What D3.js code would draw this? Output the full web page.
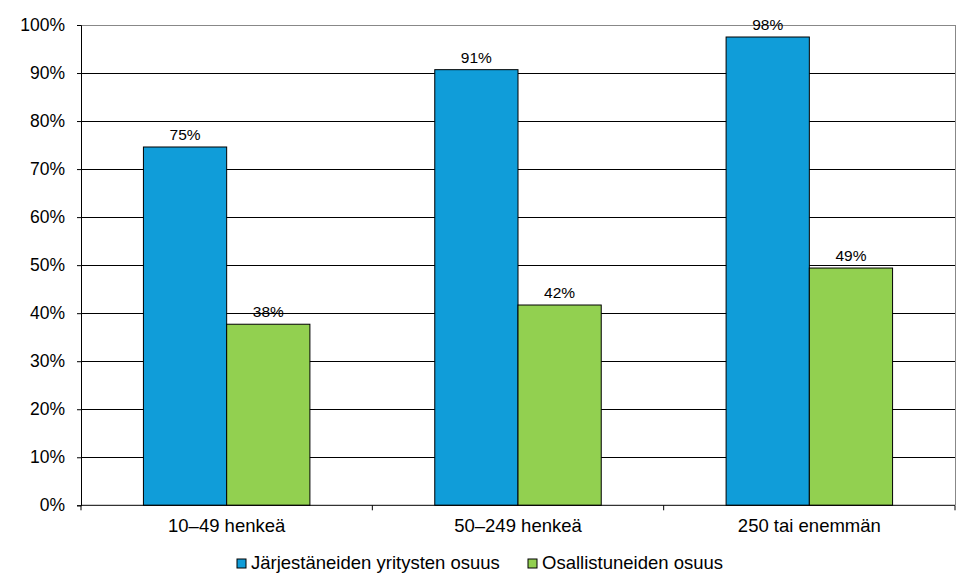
<!DOCTYPE html>
<html><head><meta charset="utf-8">
<script src="https://cdn.jsdelivr.net/npm/d3@7"></script>
<style>body{margin:0;background:#fff}svg{display:block;font-family:"Liberation Sans",Arial,sans-serif}</style>
</head><body><svg id="c" width="966" height="587"></svg>
<script>
const categories = ["10–49 henkeä", "50–249 henkeä", "250 tai enemmän"];
const seriesNames = ["Järjestäneiden yritysten osuus", "Osallistuneiden osuus"];
const series1 = [74.6, 90.7, 97.5];
const series2 = [37.7, 41.7, 49.4];
const labels1 = ["75%", "91%", "98%"];
const labels2 = ["38%", "42%", "49%"];
const yTicks = [0,10,20,30,40,50,60,70,80,90,100];
const colors = ["#109DD9", "#92D050"];

const svg = d3.select("#c");
const L = 81, R = 955, T = 25, B = 505.3;
const x = d3.scaleBand().domain(categories).range([L, R]).paddingInner(0).paddingOuter(0);
const y = d3.scaleLinear().domain([0, 100]).range([B, T]);
const bw = x.bandwidth() / (2 + 1.5);
const x1 = d3.scaleBand().domain([0,1]).range([0, bw*2]);

svg.append("g").selectAll("line").data(yTicks.filter(d=>d>0 && d<100)).join("line")
  .attr("x1", L).attr("x2", R).attr("y1", d=>y(d)).attr("y2", d=>y(d))
  .attr("stroke", "#000").attr("stroke-width", 1).attr("shape-rendering","crispEdges");
svg.append("path").attr("d", `M${L},${y(100)}H${R}V${B}`).attr("fill","none")
  .attr("stroke","#888").attr("stroke-width",1).attr("shape-rendering","crispEdges");

const data = categories.map((c,i)=>({c, v:[series1[i], series2[i]], l:[labels1[i], labels2[i]]}));
const g = svg.append("g");
data.forEach(d=>{
  const x0 = x(d.c) + bw*0.75;
  [0,1].forEach(s=>{
    g.append("rect").attr("x", x0 + x1(s)).attr("y", y(d.v[s])).attr("width", bw).attr("height", B - y(d.v[s]))
      .attr("fill", colors[s]).attr("stroke", "#000").attr("stroke-width", 1);
    g.append("text").attr("x", x0 + x1(s) + bw/2).attr("y", y(d.v[s]) - 7)
      .attr("text-anchor","middle").attr("font-size", 15.5).attr("fill","#000").text(d.l[s]);
  });
});

const ya = d3.axisLeft(y).tickValues(yTicks).tickSize(4).tickPadding(12).tickFormat(d=>d+"%");
const yg = svg.append("g").attr("transform",`translate(${L},0)`).call(ya);
yg.select(".domain").attr("stroke","#000");
yg.selectAll("line").attr("stroke","#000");
yg.selectAll("text").attr("font-size",17.5).attr("fill","#000").attr("font-family","Liberation Sans, Arial, sans-serif");

const xa = d3.axisBottom(x).tickSize(0).tickPadding(14);
const xg = svg.append("g").attr("transform",`translate(0,${B})`).call(xa);
xg.select(".domain").attr("d", `M${L},0H${R}`).attr("stroke","#000");
xg.selectAll("text").attr("font-size",18.5).attr("fill","#000").attr("font-family","Liberation Sans, Arial, sans-serif");
xg.selectAll(".sep").data([L, ...categories.map(c=>x(c)+x.bandwidth())]).join("line")
  .attr("class","sep").attr("x1",d=>d).attr("x2",d=>d).attr("y1",0).attr("y2",5).attr("stroke","#000");

const legX = [237, 528];
const lg = svg.append("g");
seriesNames.forEach((n,i)=>{
  lg.append("rect").attr("x", legX[i]).attr("y", 559).attr("width", 9).attr("height", 9)
    .attr("fill", colors[i]).attr("stroke","#000").attr("stroke-width",1);
  lg.append("text").attr("x", legX[i]+14).attr("y", 569).attr("font-size",18.5).attr("fill","#000").text(n);
});
</script></body></html>
